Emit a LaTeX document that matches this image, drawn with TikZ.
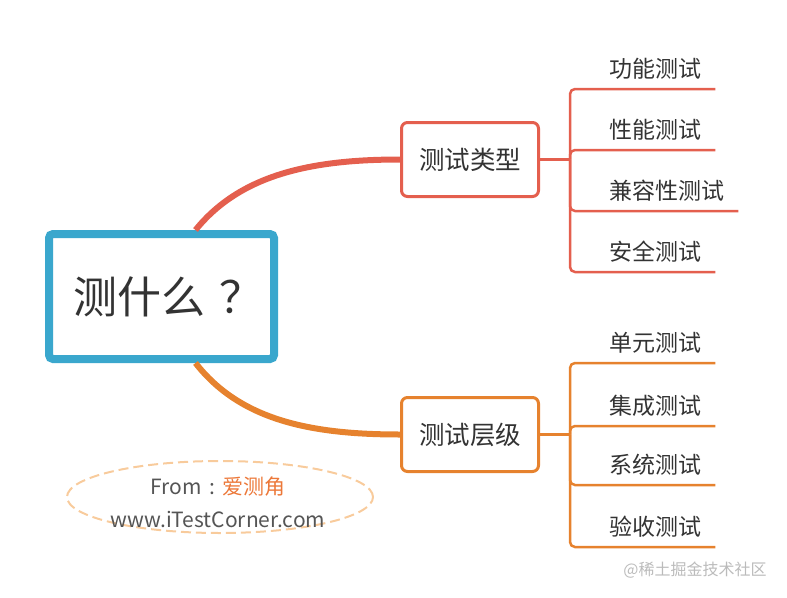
\documentclass[tikz,border=0pt]{standalone}
\usepackage{fontspec}
\setmainfont{Noto Sans CJK SC}
\usetikzlibrary{shapes.geometric}
\usetikzlibrary{positioning}
\definecolor{rootblue}{HTML}{3AA7CD}
\definecolor{typred}{HTML}{E45F4E}
\definecolor{lvlorange}{HTML}{E6822E}
\definecolor{txtgray}{HTML}{333333}
\definecolor{srcgray}{HTML}{555555}
\definecolor{dashorange}{HTML}{F8CB9C}
\definecolor{brandorange}{HTML}{EC7839}
\definecolor{markgray}{HTML}{BBBBBB}
\tikzstyle{root} = [rectangle, rounded corners=4pt, draw=rootblue, line width=8pt, fill=white, minimum width=225pt, minimum height=125pt, text=txtgray, font=\fontsize{44}{50}\selectfont]
\tikzstyle{branch} = [rectangle, rounded corners=6pt, line width=3pt, fill=white, minimum width=137pt, minimum height=74pt, text=txtgray, font=\fontsize{25.5}{28}\selectfont]
\tikzstyle{leaf} = [anchor=base west, inner sep=0pt, text=txtgray, font=\fontsize{23}{26}\selectfont]
\tikzstyle{curve} = [line width=6pt]
\tikzstyle{fork} = [line width=2.5pt, rounded corners=5pt]
\tikzstyle{src} = [text=srcgray, font=\fontsize{21}{24}\selectfont]

\begin{document}
\begin{tikzpicture}[x=1pt, y=1pt]
\useasboundingbox (0,0) rectangle (787,-597);

\node (root) [root] at (161.5,-296.5) {\hspace{14pt}测什么\hspace{14pt}？};
\node (typ) [branch, draw=typred] at (470,-159.5) {测试类型};
\node (lvl) [branch, draw=lvlorange] at (470,-434.5) {测试层级};

% leaves
\node (t1) [leaf] at (609,-77) {功能测试};
\node (t2) [leaf] at (609,-138) {性能测试};
\node (t3) [leaf] at (609,-199) {兼容性测试};
\node (t4) [leaf] at (609,-260) {安全测试};
\node (l1) [leaf] at (609,-351) {单元测试};
\node (l2) [leaf] at (609,-414) {集成测试};
\node (l3) [leaf] at (609,-473) {系统测试};
\node (l4) [leaf] at (609,-535) {验收测试};

\draw [curve, typred] ([xshift=34pt]root.north) .. controls (240,-175) and (310,-159.5) .. (typ.west);
\draw [curve, lvlorange] ([xshift=34pt]root.south) .. controls (240,-420) and (310,-434.5) .. (lvl.west);

\coordinate (tfork) at ([xshift=30pt]typ.east);
\coordinate (lfork) at ([xshift=30pt]lvl.east);
\draw [line width=3pt, typred] (typ.east) -- (tfork);
\draw [line width=3pt, lvlorange] (lvl.east) -- (lfork);

\draw [fork, typred] (tfork) |- ([shift={(14pt,-12pt)}]t1.base east);
\draw [fork, typred] (tfork) |- ([shift={(14pt,-12pt)}]t2.base east);
\draw [fork, typred] (tfork) |- ([shift={(14pt,-12pt)}]t3.base east);
\draw [fork, typred] (tfork) |- ([shift={(14pt,-12pt)}]t4.base east);
\draw [fork, lvlorange] (lfork) |- ([shift={(14pt,-12pt)}]l1.base east);
\draw [fork, lvlorange] (lfork) |- ([shift={(14pt,-12pt)}]l2.base east);
\draw [fork, lvlorange] (lfork) |- ([shift={(14pt,-12pt)}]l3.base east);
\draw [fork, lvlorange] (lfork) |- ([shift={(14pt,-12pt)}]l4.base east);

% source note
\node (oval) [ellipse, draw=dashorange, line width=2pt, dash pattern=on 10pt off 5pt, minimum width=306pt, minimum height=72pt] at (220,-497) {};
\node (from) [src] at (218,-487) {From\makebox[21pt][c]{:}\textcolor{brandorange}{爱测角}};
\node (url) [src] at (218,-519) {www.iTestCorner.com};

\node (mark) [text=markgray, font=\fontsize{16}{18}\selectfont] at (695,-570) {@稀土掘金技术社区};

\end{tikzpicture}
\end{document}
